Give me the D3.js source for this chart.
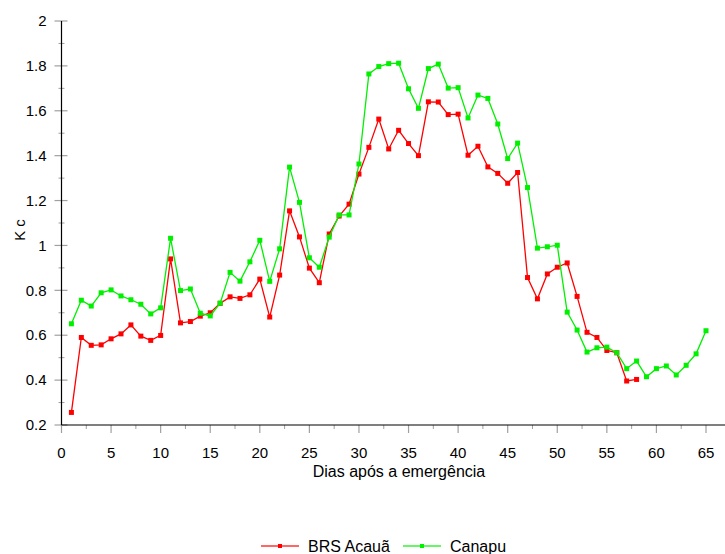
<!DOCTYPE html>
<html>
<head>
<meta charset="utf-8">
<script src="https://cdn.jsdelivr.net/npm/d3@7"></script>
<style>
  body { margin: 0; background: #fff; }
  text { font-family: "Liberation Sans", Arial, sans-serif; fill: #000; }
</style>
</head>
<body>
<div id="chart"></div>
<script>
// data (Kc per day after emergence)
var acaua = [0.256, 0.590, 0.555, 0.557, 0.584, 0.606, 0.646, 0.596, 0.577, 0.599,
  0.940, 0.655, 0.661, 0.685, 0.700, 0.742, 0.771, 0.764, 0.780, 0.850,
  0.681, 0.868, 1.154, 1.038, 0.899, 0.834, 1.051, 1.131, 1.184, 1.318,
  1.437, 1.563, 1.430, 1.513, 1.454, 1.400, 1.640, 1.639, 1.583, 1.585,
  1.402, 1.442, 1.350, 1.321, 1.277, 1.325, 0.857, 0.762, 0.873, 0.903,
  0.922, 0.773, 0.613, 0.590, 0.532, 0.522, 0.396, 0.403];
var canapu = [0.651, 0.756, 0.730, 0.789, 0.802, 0.775, 0.758, 0.738, 0.695, 0.722,
  1.032, 0.799, 0.806, 0.698, 0.686, 0.743, 0.880, 0.841, 0.927, 1.023,
  0.840, 0.985, 1.349, 1.192, 0.945, 0.903, 1.037, 1.136, 1.136, 1.363,
  1.764, 1.797, 1.810, 1.812, 1.698, 1.611, 1.788, 1.808, 1.701, 1.703,
  1.568, 1.670, 1.655, 1.541, 1.387, 1.456, 1.258, 0.988, 0.994, 1.001,
  0.703, 0.623, 0.525, 0.544, 0.547, 0.522, 0.451, 0.485, 0.415, 0.451,
  0.463, 0.423, 0.466, 0.517, 0.620];
var seriesNames = ["BRS Acauã", "Canapu"];
var seriesColors = ["#ff0000", "#00f000"];
var xTicks = [0, 5, 10, 15, 20, 25, 30, 35, 40, 45, 50, 55, 60, 65];
var xMinor = [2.5, 7.5, 12.5, 17.5, 22.5, 27.5, 32.5, 37.5, 42.5, 47.5, 52.5, 57.5, 62.5];
var yTicks = [0.2, 0.4, 0.6, 0.8, 1, 1.2, 1.4, 1.6, 1.8, 2];
var yMinor = [0.3, 0.5, 0.7, 0.9, 1.1, 1.3, 1.5, 1.7, 1.9];

var svgWidth = 725;
var svgHeight = 554;

var svg = d3.select("#chart")
  .append("svg")
  .attr("width", svgWidth)
  .attr("height", svgHeight);

// scales: 0..65 days spans 61.5..706 px, axis runs on to the edge
var xScale = d3.scaleLinear()
  .domain([0, 65])
  .range([61.5, 706]);

var yScale = d3.scaleLinear()
  .domain([0.2, 2])
  .range([425, 21]);

var tickGray = "#a0a0a0";

// y axis
var yAxis = svg.append("g").attr("transform", "translate(61.5,0)");
yAxis.selectAll(".ymajor")
  .data(yTicks)
  .enter().append("line")
  .attr("x1", -7).attr("x2", 6)
  .attr("y1", d => yScale(d)).attr("y2", d => yScale(d))
  .attr("stroke", tickGray).attr("stroke-width", 1.2);
yAxis.selectAll(".yminor")
  .data(yMinor)
  .enter().append("line")
  .attr("x1", -3).attr("x2", 3)
  .attr("y1", d => yScale(d)).attr("y2", d => yScale(d))
  .attr("stroke", tickGray).attr("stroke-width", 1);
yAxis.selectAll(".ylabel")
  .data(yTicks)
  .enter().append("text")
  .attr("x", -15)
  .attr("y", d => yScale(d))
  .attr("dy", "0.35em")
  .attr("text-anchor", "end")
  .attr("font-size", 15)
  .text(d => String(+d.toFixed(1)));
yAxis.append("line")
  .attr("x1", 0).attr("x2", 0)
  .attr("y1", yScale(2)).attr("y2", yScale(0.2))
  .attr("stroke", "#000").attr("stroke-width", 1.2);

// x axis
var xAxis = svg.append("g").attr("transform", "translate(0,425)");
xAxis.selectAll(".xmajor")
  .data(xTicks)
  .enter().append("line")
  .attr("x1", d => xScale(d)).attr("x2", d => xScale(d))
  .attr("y1", 0).attr("y2", 8)
  .attr("stroke", tickGray).attr("stroke-width", 1.2);
xAxis.selectAll(".xminor")
  .data(xMinor)
  .enter().append("line")
  .attr("x1", d => xScale(d)).attr("x2", d => xScale(d))
  .attr("y1", 0).attr("y2", 4)
  .attr("stroke", tickGray).attr("stroke-width", 1);
xAxis.selectAll(".xlabel")
  .data(xTicks)
  .enter().append("text")
  .attr("x", d => xScale(d))
  .attr("y", 33)
  .attr("text-anchor", "middle")
  .attr("font-size", 15)
  .text(d => d);
xAxis.append("line")
  .attr("x1", xScale(0)).attr("x2", svgWidth)
  .attr("y1", 0).attr("y2", 0)
  .attr("stroke", "#000").attr("stroke-width", 1.2);

// axis titles
svg.append("text")
  .attr("x", 399)
  .attr("y", 477)
  .attr("text-anchor", "middle")
  .attr("font-size", 16)
  .text("Dias após a emergência");

svg.append("text")
  .attr("transform", "translate(25,230) rotate(-90)")
  .attr("text-anchor", "middle")
  .attr("font-size", 15)
  .text("K c");

// series
var line = d3.line()
  .x(d => xScale(d.day))
  .y(d => yScale(d.kc));

[acaua, canapu].forEach(function(values, i) {
  var pts = values.map((v, j) => ({ day: j + 1, kc: v }));
  var g = svg.append("g");
  g.append("path")
    .datum(pts)
    .attr("d", line)
    .attr("fill", "none")
    .attr("stroke", seriesColors[i])
    .attr("stroke-width", 1.3);
  g.selectAll("rect")
    .data(pts)
    .enter().append("rect")
    .attr("x", d => xScale(d.day) - 2.5)
    .attr("y", d => yScale(d.kc) - 2.5)
    .attr("width", 5)
    .attr("height", 5)
    .attr("fill", seriesColors[i]);
});

// legend
var legendX = [261, 403];
var legend = svg.append("g");
seriesNames.forEach(function(name, i) {
  var x0 = legendX[i];
  legend.append("line")
    .attr("x1", x0).attr("x2", x0 + 38)
    .attr("y1", 546).attr("y2", 546)
    .attr("stroke", seriesColors[i]).attr("stroke-opacity", 0.6)
    .attr("stroke-width", 2);
  legend.append("rect")
    .attr("x", x0 + 17).attr("y", 544)
    .attr("width", 4).attr("height", 4)
    .attr("fill", seriesColors[i]);
  legend.append("text")
    .attr("x", x0 + 47)
    .attr("y", 552)
    .attr("font-size", 16)
    .text(name);
});
</script>
</body>
</html>
